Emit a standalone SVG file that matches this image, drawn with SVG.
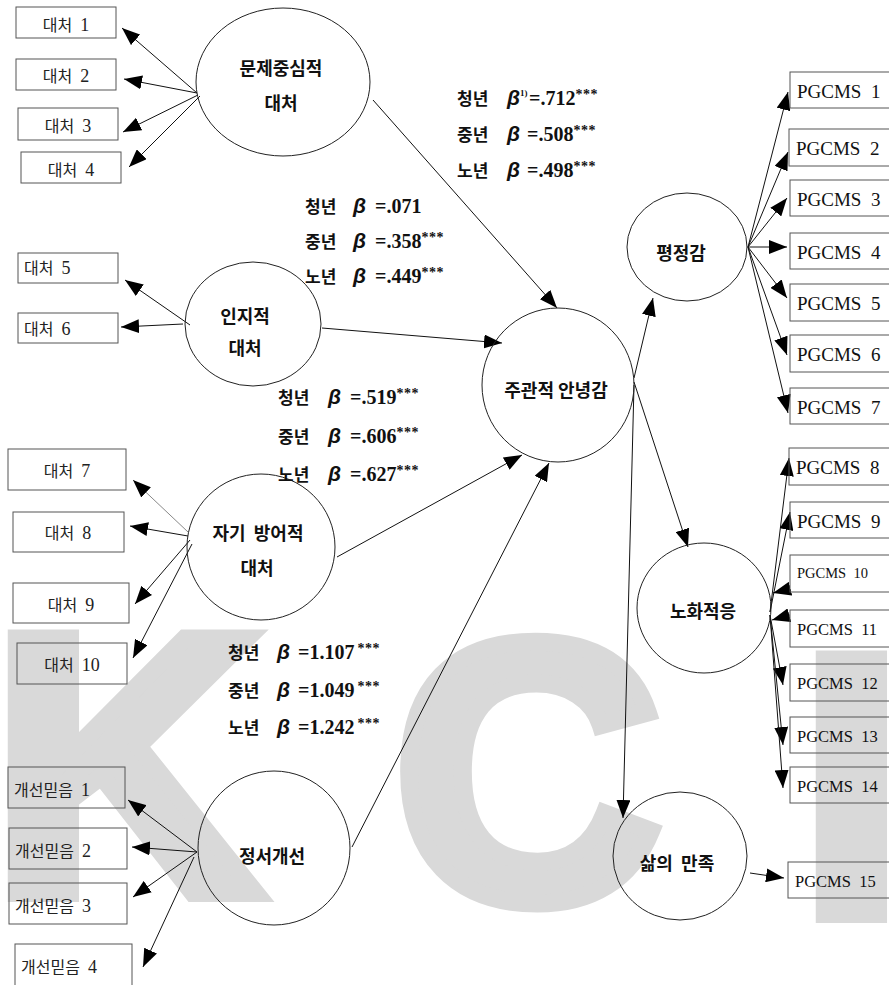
<svg xmlns="http://www.w3.org/2000/svg" width="889" height="985" viewBox="0 0 889 985" xml:space="preserve">
<style>
.wm{font-family:"Liberation Sans",Arial,sans-serif;font-weight:bold;font-size:370px;fill:#d9d9d9;stroke:#d9d9d9;stroke-width:18;stroke-linejoin:miter}
.box{fill:none;stroke:#555;stroke-width:1}
.ell{fill:none;stroke:#222;stroke-width:1}
.bt{font-family:"Liberation Serif","Noto Sans CJK KR",serif;font-size:16px;fill:#222;white-space:pre}
.bt tspan{font-size:18px}
.pg{font-family:"Liberation Serif","Times New Roman",serif;font-size:19px;fill:#111;white-space:pre}
.lb{font-family:"Noto Sans CJK KR",sans-serif;font-weight:bold;font-size:18px;fill:#111;text-anchor:middle;white-space:pre}
.cf{font-family:"Liberation Serif","Noto Sans CJK KR",serif;font-weight:bold;font-size:20px;fill:#111}
.k{font-family:"Noto Sans CJK KR",sans-serif;font-size:17px}
.b{font-family:"Liberation Sans",sans-serif;font-style:italic;font-size:21px}
.s{font-size:14px;letter-spacing:0.5px}
.ln{stroke:#111;stroke-width:1;fill:none;marker-end:url(#ah)}
</style>
<defs>
<marker id="ah" markerUnits="userSpaceOnUse" markerWidth="18" markerHeight="14" refX="18" refY="7" orient="auto"><path d="M0,0 L18,7 L0,14 z" fill="#000"/></marker>
</defs>
<g id="watermark">
<text class="wm" x="-8" y="893">K</text>
<text class="wm" x="394" y="900">C</text>
<text class="wm" x="800" y="914">I</text>
</g>
<g id="connectors">
<line class="ln" x1="197" y1="93" x2="122" y2="28"/>
<line class="ln" x1="197" y1="93" x2="124" y2="79"/>
<line class="ln" x1="198" y1="95" x2="123" y2="132"/>
<line class="ln" x1="200" y1="96" x2="129" y2="167"/>
<line class="ln" x1="190" y1="325" x2="125" y2="280"/>
<line class="ln" x1="183" y1="324" x2="121" y2="327"/>
<line class="ln" x1="188" y1="532" x2="133" y2="480" style="stroke:#888"/>
<line class="ln" x1="188" y1="536" x2="130" y2="526"/>
<line class="ln" x1="190" y1="540" x2="135" y2="604"/>
<line class="ln" x1="192" y1="544" x2="133" y2="658"/>
<line class="ln" x1="197" y1="852" x2="128" y2="800"/>
<line class="ln" x1="197" y1="852" x2="132" y2="847"/>
<line class="ln" x1="197" y1="852" x2="133" y2="897"/>
<line class="ln" x1="194" y1="857" x2="143" y2="967"/>
<line class="ln" x1="373" y1="100" x2="557" y2="308"/>
<line class="ln" x1="322" y1="328" x2="502" y2="343"/>
<line class="ln" x1="337" y1="557" x2="522" y2="455"/>
<line class="ln" x1="352" y1="847" x2="549" y2="463"/>
<line class="ln" x1="634" y1="378" x2="653" y2="298"/>
<line class="ln" x1="634" y1="382" x2="688" y2="547"/>
<line class="ln" x1="634" y1="385" x2="623" y2="818"/>
<line class="ln" x1="748" y1="247" x2="788" y2="92"/>
<line class="ln" x1="748" y1="247" x2="788" y2="152"/>
<line class="ln" x1="748" y1="247" x2="787" y2="198"/>
<line class="ln" x1="748" y1="247" x2="787" y2="247"/>
<line class="ln" x1="748" y1="247" x2="787" y2="298"/>
<line class="ln" x1="748" y1="247" x2="787" y2="355"/>
<line class="ln" x1="748" y1="247" x2="788" y2="413"/>
<line class="ln" x1="770" y1="612" x2="789" y2="458"/>
<line class="ln" x1="770" y1="612" x2="790" y2="512"/>
<line class="ln" x1="789" y1="589" x2="773" y2="593"/>
<line class="ln" x1="790" y1="615" x2="772" y2="620"/>
<line class="ln" x1="770" y1="615" x2="783" y2="685"/>
<line class="ln" x1="770" y1="615" x2="783" y2="745"/>
<line class="ln" x1="770" y1="615" x2="783" y2="788"/>
<line class="ln" x1="750" y1="873" x2="784" y2="878"/>
</g>
<g id="n-d1"><rect class="box" x="16" y="7" width="100" height="31"/><text class="bt" x="66" y="31" text-anchor="middle">대처  <tspan>1</tspan></text></g>
<g id="n-d2"><rect class="box" x="16" y="59" width="100" height="31"/><text class="bt" x="66" y="82" text-anchor="middle">대처  <tspan>2</tspan></text></g>
<g id="n-d3"><rect class="box" x="18" y="108" width="100" height="32"/><text class="bt" x="68" y="132" text-anchor="middle">대처  <tspan>3</tspan></text></g>
<g id="n-d4"><rect class="box" x="21" y="152" width="100" height="31"/><text class="bt" x="71" y="176" text-anchor="middle">대처  <tspan>4</tspan></text></g>
<g id="n-d5"><rect class="box" x="18" y="253" width="100" height="30"/><text class="bt" x="24" y="274">대처  <tspan>5</tspan></text></g>
<g id="n-d6"><rect class="box" x="18" y="313" width="100" height="30"/><text class="bt" x="24" y="335">대처  <tspan>6</tspan></text></g>
<g id="n-d7"><rect class="box" x="8" y="449" width="118" height="41"/><text class="bt" x="67" y="477" text-anchor="middle">대처  <tspan>7</tspan></text></g>
<g id="n-d8"><rect class="box" x="13" y="512" width="111" height="40"/><text class="bt" x="68" y="539" text-anchor="middle">대처  <tspan>8</tspan></text></g>
<g id="n-d9"><rect class="box" x="13" y="583" width="116" height="40"/><text class="bt" x="71" y="611" text-anchor="middle">대처  <tspan>9</tspan></text></g>
<g id="n-d10"><rect class="box" x="17" y="643" width="110" height="41"/><text class="bt" x="72" y="671" text-anchor="middle">대처  <tspan>10</tspan></text></g>
<g id="n-g1"><rect class="box" x="8" y="767" width="117" height="41"/><text class="bt" x="14" y="796">개선믿음  <tspan>1</tspan></text></g>
<g id="n-g2"><rect class="box" x="9" y="828" width="118" height="41"/><text class="bt" x="15" y="857">개선믿음  <tspan>2</tspan></text></g>
<g id="n-g3"><rect class="box" x="9" y="883" width="118" height="41"/><text class="bt" x="15" y="912">개선믿음  <tspan>3</tspan></text></g>
<g id="n-g4"><rect class="box" x="15" y="944" width="117" height="45"/><text class="bt" x="21" y="973">개선믿음  <tspan>4</tspan></text></g>
<g id="n-problem"><ellipse class="ell" cx="283" cy="82" rx="87" ry="74"/><text class="lb" x="281" y="75">문제중심적</text><text class="lb" x="281" y="110">대처</text></g>
<g id="n-cog"><ellipse class="ell" cx="253" cy="324" rx="68" ry="62"/><text class="lb" x="245" y="323">인지적</text><text class="lb" x="245" y="355">대처</text></g>
<g id="n-def"><ellipse class="ell" cx="261" cy="547" rx="74" ry="73"/><text class="lb" x="258" y="540">자기  방어적</text><text class="lb" x="257" y="575">대처</text></g>
<g id="n-emo"><ellipse class="ell" cx="274" cy="848" rx="76" ry="77"/><text class="lb" x="272" y="863">정서개선</text></g>
<g id="n-swb"><ellipse class="ell" cx="558" cy="385" rx="76" ry="77"/><text class="lb" x="556" y="397">주관적 안녕감</text></g>
<g id="n-calm"><ellipse class="ell" cx="687" cy="247" rx="60" ry="54"/><text class="lb" x="681" y="260">평정감</text></g>
<g id="n-aging"><ellipse class="ell" cx="704" cy="608" rx="67" ry="65"/><text class="lb" x="703" y="618">노화적응</text></g>
<g id="n-life"><ellipse class="ell" cx="680" cy="856" rx="67" ry="64"/><text class="lb" x="677" y="870">삶의  만족</text></g>
<g id="n-pg1"><rect class="box" x="790" y="72" width="110" height="36"/><text class="pg" x="797" y="98">PGCMS  1</text></g>
<g id="n-pg2"><rect class="box" x="789" y="129" width="110" height="37"/><text class="pg" x="796" y="155">PGCMS  2</text></g>
<g id="n-pg3"><rect class="box" x="790" y="180" width="110" height="36"/><text class="pg" x="797" y="206">PGCMS  3</text></g>
<g id="n-pg4"><rect class="box" x="790" y="233" width="110" height="36"/><text class="pg" x="797" y="259">PGCMS  4</text></g>
<g id="n-pg5"><rect class="box" x="790" y="284" width="110" height="37"/><text class="pg" x="797" y="310">PGCMS  5</text></g>
<g id="n-pg6"><rect class="box" x="790" y="335" width="110" height="37"/><text class="pg" x="797" y="361">PGCMS  6</text></g>
<g id="n-pg7"><rect class="box" x="790" y="388" width="110" height="36"/><text class="pg" x="797" y="414">PGCMS  7</text></g>
<g id="n-pg8"><rect class="box" x="789" y="448" width="110" height="37"/><text class="pg" x="796" y="474">PGCMS  8</text></g>
<g id="n-pg9"><rect class="box" x="790" y="502" width="110" height="36"/><text class="pg" x="797" y="528">PGCMS  9</text></g>
<g id="n-pg10"><rect class="box" x="790" y="555" width="110" height="37"/><text class="pg" x="797" y="578" style="font-size:14.5px">PGCMS  10</text></g>
<g id="n-pg11"><rect class="box" x="790" y="610" width="110" height="37"/><text class="pg" x="797" y="635" style="font-size:16.5px">PGCMS  11</text></g>
<g id="n-pg12"><rect class="box" x="790" y="664" width="110" height="37"/><text class="pg" x="797" y="689" style="font-size:16.5px">PGCMS  12</text></g>
<g id="n-pg13"><rect class="box" x="790" y="717" width="110" height="36"/><text class="pg" x="797" y="742" style="font-size:16.5px">PGCMS  13</text></g>
<g id="n-pg14"><rect class="box" x="790" y="767" width="110" height="36"/><text class="pg" x="797" y="792" style="font-size:16.5px">PGCMS  14</text></g>
<g id="n-pg15"><rect class="box" x="788" y="862" width="110" height="36"/><text class="pg" x="795" y="887" style="font-size:16.5px">PGCMS  15</text></g>
<g id="coefs">
<text class="cf" x="457" y="105"><tspan class="k">청년</tspan><tspan class="b" x="507">β</tspan><tspan style="font-size:9px" dy="-9">1)</tspan><tspan x="529" dy="9">=.712</tspan><tspan class="s" dy="-6">***</tspan></text>
<text class="cf" x="457" y="141"><tspan class="k">중년</tspan><tspan class="b" x="507">β</tspan><tspan x="527">=.508</tspan><tspan class="s" dy="-6">***</tspan></text>
<text class="cf" x="457" y="177"><tspan class="k">노년</tspan><tspan class="b" x="507">β</tspan><tspan x="527">=.498</tspan><tspan class="s" dy="-6">***</tspan></text>
<text class="cf" x="305" y="213"><tspan class="k">청년</tspan><tspan class="b" x="353">β</tspan><tspan x="375">=.071</tspan></text>
<text class="cf" x="305" y="248"><tspan class="k">중년</tspan><tspan class="b" x="353">β</tspan><tspan x="375">=.358</tspan><tspan class="s" dy="-6">***</tspan></text>
<text class="cf" x="305" y="283"><tspan class="k">노년</tspan><tspan class="b" x="353">β</tspan><tspan x="375">=.449</tspan><tspan class="s" dy="-6">***</tspan></text>
<text class="cf" x="278" y="404"><tspan class="k">청년</tspan><tspan class="b" x="328">β</tspan><tspan x="350">=.519</tspan><tspan class="s" dy="-6">***</tspan></text>
<text class="cf" x="278" y="443"><tspan class="k">중년</tspan><tspan class="b" x="328">β</tspan><tspan x="350">=.606</tspan><tspan class="s" dy="-6">***</tspan></text>
<text class="cf" x="278" y="481"><tspan class="k">노년</tspan><tspan class="b" x="328">β</tspan><tspan x="350">=.627</tspan><tspan class="s" dy="-6">***</tspan></text>
<text class="cf" x="228" y="659"><tspan class="k">청년</tspan><tspan class="b" x="277">β</tspan><tspan x="298">=1.107</tspan><tspan class="s" dx="3" dy="-6">***</tspan></text>
<text class="cf" x="228" y="697"><tspan class="k">중년</tspan><tspan class="b" x="277">β</tspan><tspan x="298">=1.049</tspan><tspan class="s" dx="3" dy="-6">***</tspan></text>
<text class="cf" x="228" y="734"><tspan class="k">노년</tspan><tspan class="b" x="277">β</tspan><tspan x="298">=1.242</tspan><tspan class="s" dx="3" dy="-6">***</tspan></text>
</g>
</svg>
